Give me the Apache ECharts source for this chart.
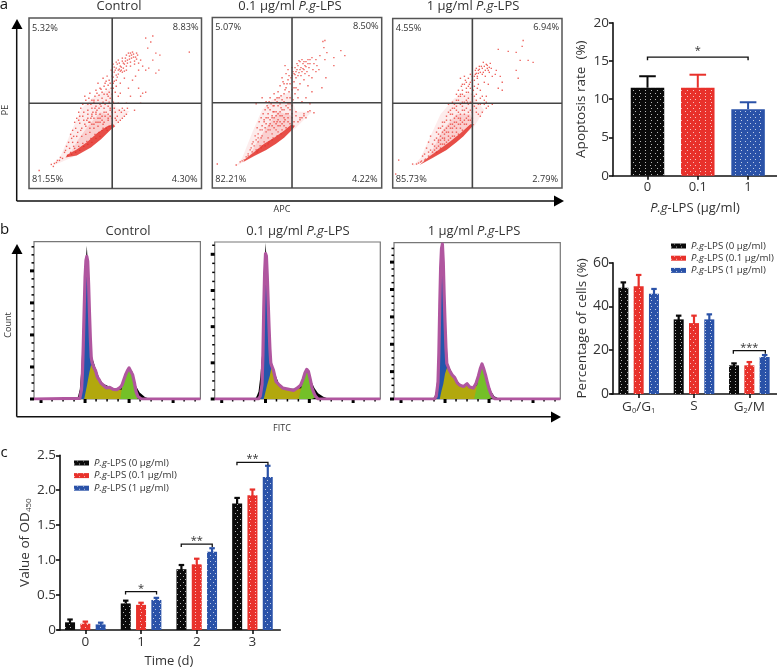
<!DOCTYPE html>
<html><head><meta charset="utf-8">
<script src="https://cdn.jsdelivr.net/npm/echarts@6/dist/echarts.min.js"></script>
<style>html,body{margin:0;padding:0;background:#fff}#c{width:777px;height:669px}</style></head>
<body><div id="c"></div>
<script>
const FONT='"Open Sans","Noto Sans",sans-serif', INK='#333', RED='#e8312b', BLUE='#2a52a8', BLK='#0a0a0a';
const groupNames=['P.g-LPS (0 µg/ml)','P.g-LPS (0.1 µg/ml)','P.g-LPS (1 µg/ml)'];

/* panel a: quadrant percentages [UL,UR,LL,LR] */
const pctA1=['5.32%','8.83%','81.55%','4.30%'];
const pctA2=['5.07%','8.50%','82.21%','4.22%'];
const pctA3=['4.55%','6.94%','85.73%','2.79%'];
const titles=['Control','0.1 µg/ml ','1 µg/ml '];
const gateA1=[82,85], gateA2=[80,85], gateA3=[80,85];

/* panel a: dense zones and sparse events, APC / PE channels */
const bandA1=[[36,31],[47,33],[61,41],[71,49],[81,59],[85,62],[83,64],[77,62],[67,55],[57,46],[47,39],[38,34]];
const coreA1=[[40,34],[61,41],[81,59],[83,72],[70,76],[58,62],[48,48]];
const cloudA1=[[24,23],[47,33],[71,49],[81,59],[99,77],[86,80],[80,100],[62,90],[52,80],[41,55],[30,30]];
const ptsA1=[[84,116],[86,120],[88,118],[90,122],[86,113],[89,125],[92,127],[94,124],[91,118],[95,130],[97,128],[99,132],[101,130],[103,134],[105,131],[100,126],[96,122],[93,120],[107,133],[110,128],[104,127],[108,125],[98,135],[102,136],[112,122],[88,128],[84,121],[82,112],[81,118],[79,108],[77,112],[75,105],[73,110],[70,100],[68,105],[72,96],[76,99],[79,96],[65,92],[62,88],[58,84],[55,92],[60,95],[66,98],[80,90],[83,100],[86,108],[90,105],[94,110],[98,100],[102,108],[105,112],[108,118],[115,118],[118,120],[125,115],[128,118],[122,128],[117,140],[120,146],[115,150],[122,152],[125,135],[129,133],[158,136],[110,85],[112,95],[100,92],[96,85],[104,78],[108,100],[90,95],[92,80],[88,85],[110,92],[115,96],[91,76],[94,78],[97,80],[87,72],[89,78],[85,70],[84,80],[82,76],[80,72],[78,68],[75,72],[72,68],[70,74],[68,70],[66,76],[64,70],[62,74],[60,66],[58,70],[56,62],[54,68],[52,60],[50,65],[48,56],[46,60],[44,52],[42,50],[78,82],[74,80],[70,84],[66,82],[62,80],[58,78],[76,88],[72,90],[68,88],[64,86],[80,80],[76,60],[72,58],[68,62],[64,60],[60,56],[56,54],[52,52],[48,46],[44,42],[40,40],[36,38],[33,30],[30,28],[27,26],[24,22],[10,18],[22,24],[70,66],[66,66],[62,64],[74,76],[78,74],[82,70],[79,62],[73,64],[69,56],[65,54],[61,50],[57,47],[53,45],[49,42],[45,40],[41,36],[38,33],[85,96],[82,94],[78,92],[74,94],[88,92],
[85,118],[87,124],[89,119],[91,121],[93,125],[95,127],[97,125],[99,129],[101,133],[103,131],[106,129],[94,117],[90,117],[87,111],[84,107],[83,111],[80,105],[78,103],[76,107],[74,102],[71,99],[69,93],[67,95],[64,88],[61,84],[59,90],[56,88],[53,84],[51,80],[49,76],[47,70],[45,66],[43,58],[41,54],[39,46],[37,42],[35,36],[31,31],[28,28],[25,25],[50,72],[54,76],[58,74],[62,72],[66,74],[70,70],[74,66],[78,70],[82,64],[85,76],[83,86],[79,86],[75,84],[71,82],[67,78],[63,76],[59,66],[55,64],[51,58],[47,52],[43,46],[60,60],[64,64],[68,66],[72,72],[76,76],[80,78],[73,60],[77,58],[70,52],[66,50],[62,46],[58,44],[54,42],[50,38],[46,36],[42,34],[94,72],[96,74],[92,70],[90,68],[88,66],[86,68],[92,116],[88,114],[96,118],[100,122],[104,124],[83,124],[86,126],[92,130],[96,133],[100,135],[106,135],[83,105],[86,102],[81,100],[77,94],[73,86],[69,80],[65,80],[61,70],[57,68],[53,72],[49,68]];
const bandA2=[[31,26],[42,32],[54,38],[64,44],[72,50],[80,58],[83,62],[79,63],[72,57],[62,50],[52,44],[42,36],[33,29]];
const coreA2=[[36,30],[54,38],[72,50],[82,60],[80,72],[66,76],[54,60],[44,44]];
const cloudA2=[[24,22],[54,38],[72,50],[84,60],[100,76],[84,76],[78,96],[60,88],[50,78],[40,55],[30,30]];
const ptsA2=[[83,113],[85,118],[87,115],[89,120],[91,124],[93,122],[86,122],[88,126],[90,128],[92,118],[94,126],[96,124],[98,128],[100,130],[95,116],[97,120],[84,110],[82,106],[80,112],[78,104],[76,108],[74,100],[72,104],[70,110],[68,102],[66,96],[74,114],[76,118],[80,120],[73,122],[72,94],[77,96],[80,98],[84,100],[88,104],[92,108],[96,102],[100,110],[104,116],[107,118],[102,124],[104,128],[108,132],[112,140],[111,146],[113,147],[115,135],[113,128],[122,122],[122,130],[129,137],[133,132],[114,110],[110,100],[100,96],[94,90],[98,84],[90,86],[86,90],[62,94],[58,90],[54,86],[50,90],[56,80],[62,82],[68,84],[72,86],[76,84],[44,84],[5,24],[24,23],[28,26],[32,28],[36,32],[40,36],[44,38],[48,42],[52,46],[56,50],[60,54],[64,58],[68,62],[72,66],[76,70],[80,74],[84,72],[88,70],[92,74],[98,77],[102,75],[94,70],[44,48],[46,54],[48,58],[50,62],[52,66],[54,70],[56,74],[58,64],[60,70],[62,66],[64,72],[66,68],[68,76],[70,72],[72,78],[74,74],[76,80],[78,78],[80,82],[46,46],[50,52],[54,56],[58,58],[62,60],[66,62],[70,64],[74,60],[78,64],[82,66],[40,44],[42,42],[38,38],[36,34],[66,56],[70,58],[60,48],[56,44],[50,42],[46,38],[73,68],[65,66],[57,62],[53,60],[49,50],[61,76],[69,80],[75,90],[81,88],[83,94],[59,84],[65,90],
[84,116],[86,112],[88,118],[90,116],[92,126],[94,121],[96,128],[98,124],[91,119],[87,127],[85,124],[83,120],[81,116],[79,110],[77,112],[75,104],[73,98],[71,106],[69,92],[67,90],[65,86],[63,88],[61,82],[57,86],[55,82],[53,78],[51,74],[49,70],[47,66],[45,60],[43,52],[41,46],[39,40],[34,31],[30,27],[52,68],[56,70],[60,72],[64,76],[68,72],[72,70],[76,74],[80,70],[84,76],[78,84],[74,82],[70,78],[66,74],[62,70],[58,68],[54,64],[50,58],[46,50],[56,58],[60,62],[64,64],[68,66],[72,62],[76,66],[80,62],[69,54],[65,52],[61,50],[57,46],[53,42],[49,40],[45,36],[90,70],[92,72],[96,76],[86,66],[88,68],[89,112],[93,114],[97,112],[101,118],[105,122],[82,114],[86,98],[82,100],[78,90],[70,88],[66,82],[62,76],[58,78]];
const bandA3=[[27,23],[40,30],[54,38],[64,46],[71,52],[80,62],[82,64],[78,64],[68,55],[58,47],[46,38],[36,31]];
const coreA3=[[34,28],[54,38],[71,52],[81,63],[78,74],[64,74],[50,58],[42,42]];
const cloudA3=[[20,22],[54,38],[71,52],[82,62],[92,78],[84,88],[78,96],[62,90],[48,74],[36,48],[28,30]];
const ptsA3=[[82,112],[84,115],[86,118],[88,116],[90,120],[92,122],[94,124],[96,118],[85,110],[83,118],[87,122],[90,114],[93,112],[95,120],[98,125],[91,126],[80,108],[78,114],[76,110],[74,106],[72,112],[70,104],[68,110],[66,98],[70,94],[74,96],[78,100],[82,102],[86,104],[72,86],[66,88],[62,84],[58,78],[64,94],[84,94],[88,98],[92,106],[96,104],[100,112],[104,118],[108,112],[110,106],[106,100],[110,98],[94,92],[96,82],[90,76],[94,80],[88,84],[92,88],[100,84],[106,139],[116,137],[124,136],[131,148],[130,142],[128,128],[126,110],[124,118],[136,128],[141,126],[3,14],[6,28],[20,24],[24,24],[28,26],[32,28],[36,32],[40,36],[44,40],[48,44],[52,48],[56,52],[60,56],[64,60],[68,64],[72,68],[76,72],[80,76],[84,80],[86,74],[88,72],[34,40],[36,46],[38,52],[42,48],[44,56],[46,60],[48,52],[50,66],[52,58],[54,72],[56,62],[58,68],[60,74],[62,66],[64,72],[66,76],[68,70],[70,78],[72,74],[74,80],[76,84],[78,78],[80,86],[82,82],[50,56],[54,60],[58,60],[62,62],[66,64],[70,66],[74,64],[78,68],[46,48],[42,42],[38,38],[32,34],[30,32],[70,58],[66,54],[62,52],[58,50],[54,46],[50,44],[46,42],[42,38],[74,70],[68,68],[60,64],[52,54],[48,48],[64,78],[70,86],[76,90],[82,92],[60,86],[56,84],[68,92],[75,86],
[83,114],[85,112],[87,119],[89,122],[91,116],[93,118],[95,123],[97,121],[86,115],[84,120],[82,108],[80,112],[78,106],[76,102],[74,100],[72,104],[70,98],[68,94],[66,92],[64,88],[62,80],[60,80],[58,74],[56,76],[54,68],[52,66],[50,62],[48,60],[46,54],[44,50],[40,44],[36,36],[33,29],[29,27],[26,25],[52,50],[56,56],[60,60],[64,66],[68,74],[72,78],[76,76],[80,70],[84,76],[78,86],[74,88],[70,82],[66,70],[62,70],[58,64],[54,56],[50,50],[46,46],[72,64],[76,68],[80,66],[68,60],[64,56],[60,52],[56,48],[52,44],[48,40],[44,36],[86,84],[88,90],[90,92],[84,88],[92,84],[94,86],[80,94],[76,96],[72,92],[68,84],[64,82],[97,116],[99,120],[103,114],[85,100],[81,98],[77,104],[73,108],[69,102]];

/* panel b: cell cycle histograms as [channel,count] */
const histMajorX=[0,50,100,150];
const histMinorX=[12.5,25,37.5,62.5,75,87.5,112.5,125,137.5,162.5,175];
const yMajor1=[0,100,200,300,400], yMinor1=[25,50,75,125,150,175,225,250,275,325,350,375,425,450,475];
const yMajor2=[0,100,200,300,400], yMinor2=[25,50,75,125,150,175,225,250,275,325,350,375,425];
const yMajor3=[0,100,200,300,400,500], yMinor3=[25,50,75,125,150,175,225,250,275,325,350,375,425,450,475,525,550];
const totalB1=[[-8,0],[44,2],[46,30],[47,80],[48,170],[49,280],[50,380],[51,432],[52,445],[53,430],[54,360],[55,270],[56,190],[57,130],[58,114],[60,98],[62,88],[64,68],[66,60],[68,50],[70,46],[74,35],[78,36],[82,30],[86,29],[88,31],[90,36],[92,44],[94,60],[96,76],[98,88],[100,97],[102,92],[104,76],[106,52],[108,22],[110,8],[112,2],[114,0],[181,0]];
const blackB1=[[40,0],[42,8],[44,30],[46,100],[48,250],[50,400],[52,478],[54,380],[56,220],[58,130],[62,96],[66,66],[70,48],[78,38],[86,30],[92,48],[96,80],[100,100],[104,84],[108,40],[112,20],[118,6],[124,0]];
const blueB1=[[45,0],[47,70],[48,160],[49,270],[50,370],[51,420],[52,435],[53,420],[54,350],[55,260],[56,180],[57,120],[58,0]];
const yellowB1=[[49,0],[52,40],[55,85],[57,108],[60,92],[62,80],[64,64],[68,48],[74,33],[78,34],[82,28],[86,27],[90,30],[94,28],[98,8],[102,0]];
const greenB1=[[90,0],[92,38],[94,56],[96,72],[98,84],[100,92],[102,88],[104,72],[106,48],[108,18],[110,0]];
const totalB2=[[-8,0],[42,0],[44,8],[46,40],[47,120],[48,250],[49,350],[50,402],[51,395],[52,340],[53,270],[54,200],[55,140],[56,100],[57,92],[59,80],[62,48],[66,38],[70,30],[74,28],[78,26],[82,24],[86,30],[90,38],[93,56],[95,72],[97,82],[99,76],[101,55],[103,32],[105,18],[107,8],[110,0],[181,0]];
const blackB2=[[38,0],[40,8],[42,20],[44,60],[46,120],[48,300],[50,432],[52,360],[54,220],[56,110],[60,75],[66,38],[74,28],[86,28],[92,45],[97,84],[102,50],[106,30],[110,16],[116,6],[123,0]];
const blueB2=[[44,0],[46,30],[47,110],[48,230],[49,330],[50,385],[51,380],[52,325],[53,260],[54,195],[55,135],[56,95],[57,60],[58,0]];
const yellowB2=[[48,0],[52,40],[55,65],[57,90],[59,76],[62,46],[66,36],[70,28],[74,27],[78,25],[82,23],[86,28],[90,30],[94,26],[98,6],[102,0]];
const greenB2=[[88,0],[91,34],[93,50],[95,66],[97,76],[99,70],[101,50],[103,28],[105,14],[107,4],[108,0]];
const totalB3=[[-8,0],[38,0],[40,10],[42,60],[43,170],[44,340],[45,480],[46,550],[47,566],[48,500],[49,380],[50,280],[51,190],[52,130],[53,122],[55,105],[58,88],[61,78],[64,58],[67,50],[71,46],[75,56],[78,44],[82,40],[85,55],[88,85],[90,110],[92,128],[94,110],[96,88],[98,62],[100,38],[102,20],[104,8],[107,0],[181,0]];
const blackB3=[[36,0],[38,8],[40,30],[42,110],[44,380],[47,580],[50,300],[53,130],[60,80],[70,45],[82,40],[92,128],[98,66],[102,30],[106,10],[112,0]];
const blueB3=[[40,0],[41,30],[42,55],[43,160],[44,330],[45,470],[46,540],[47,555],[48,490],[49,370],[50,270],[51,180],[52,120],[53,60],[54,0]];
const yellowB3=[[44,0],[46,30],[48,55],[50,92],[52.7,120],[55,100],[58,84],[61,74],[64,55],[67,47],[71,43],[75,52],[78,42],[82,38],[85,48],[88,50],[92,24],[96,4],[98,0]];
const greenB3=[[83,0],[85,28],[88,78],[90,104],[92,120],[94,104],[96,82],[98,56],[100,32],[102,16],[104,4],[105,0]];

/* bar charts */
const apoCats=['0','0.1','1'];
const apoVals=[11.5,11.5,8.7];
const apoTops=[13,13.2,9.6];
const cycleCats=['G0/G1','S','G2/M'];
const cycle0=[48.6,34.1,13.1], cycle0Top=[51,35.8,14];
const cycle1=[49.2,32.4,13.1], cycle1Top=[54.4,35.8,14.6];
const cycle2=[45.8,34.1,16.9], cycle2Top=[48,36.4,17.8];
const odCats=['0','1','2','3'];
const od0=[0.11,0.38,0.87,1.81], od0Top=[0.15,0.42,0.93,1.89];
const od1=[0.09,0.36,0.94,1.93], od1Top=[0.12,0.39,1.02,2.01];
const od2=[0.08,0.43,1.12,2.19], od2Top=[0.105,0.46,1.17,2.35];

const grids=[],xAxes=[],yAxes=[],series=[],gfx=[];
const txt=(s,x,y,o={})=>gfx.push({type:'text',z:100,x,y,rotation:o.rot||0,silent:true,style:{text:s,fill:o.fill||INK,fontFamily:FONT,fontSize:o.size||10,align:o.align||'center',verticalAlign:'middle',rich:o.rich}});
const seg=(x1,y1,x2,y2,w=1.5,c='#111')=>gfx.push({type:'line',z:100,silent:true,shape:{x1,y1,x2,y2},style:{stroke:c,lineWidth:w}});
const arrow=(pts)=>gfx.push({type:'polygon',z:100,silent:true,shape:{points:pts},style:{fill:'#000'}});

function scatterPanel(l,t,w,h,gate,band,core,cloud,pts,pct){
  const g=grids.length;
  grids.push({left:l,top:t,width:w,height:h,show:true,borderColor:'#555',borderWidth:1.5,backgroundColor:'transparent'});
  xAxes.push({gridIndex:g,type:'value',min:0,max:170,show:false});
  yAxes.push({gridIndex:g,type:'value',min:0,max:170,show:false});
  const idx={xAxisIndex:xAxes.length-1,yAxisIndex:yAxes.length-1};
  const poly=(arr,fill,z)=>series.push({type:'custom',...idx,z,silent:true,coordinateSystem:'cartesian2d',data:[arr[0]],
    renderItem:(p,api)=>({type:'polygon',shape:{points:arr.map(a=>api.coord(a))},style:{fill}})});
  poly(cloud,'rgba(236,70,70,0.10)',2);
  poly(core,'rgba(236,60,60,0.16)',2);
  series.push({type:'scatter',...idx,z:3,silent:true,symbol:'rect',symbolSize:1.4,itemStyle:{color:'#e8302a',opacity:.75},data:pts});
  poly(band,'rgba(226,44,36,0.8)',4);
  series.push({type:'line',...idx,z:5,silent:true,showSymbol:false,lineStyle:{color:'#444',width:1.6},data:[[gate[0],0],[gate[0],170]]});
  series.push({type:'line',...idx,z:5,silent:true,showSymbol:false,lineStyle:{color:'#444',width:1.6},data:[[0,gate[1]],[170,gate[1]]]});
  txt(pct[0],l+3,t+10,{align:'left',size:9.2});
  txt(pct[1],l+w-3,t+9,{align:'right',size:9.2});
  txt(pct[2],l+3,t+h-9,{align:'left',size:9.2});
  txt(pct[3],l+w-4,t+h-9,{align:'right',size:9.2});
}
function histPanel(l,t,w,h,ymax,yMajor,yMinor,black,blue,yellow,green,total){
  const g=grids.length;
  grids.push({left:l,top:t,width:w,height:h,show:true,borderColor:'#777',borderWidth:1.2,backgroundColor:'transparent'});
  xAxes.push({gridIndex:g,type:'value',min:-8,max:181,show:false});
  yAxes.push({gridIndex:g,type:'value',min:0,max:ymax,show:false});
  const idx={xAxisIndex:xAxes.length-1,yAxisIndex:yAxes.length-1};
  const area=(d,c)=>series.push({type:'line',...idx,z:2,silent:true,showSymbol:false,data:d,lineStyle:{width:0},areaStyle:{color:c,opacity:1}});
  area(black,'#000'); area(blue,'#2456ab'); area(yellow,'#b2a80e'); area(green,'#74c028');
  series.push({type:'line',...idx,z:3,silent:true,showSymbol:false,data:total,lineStyle:{color:'#b0569f',width:3.2,join:'round'}});
  const ticks=(vals,isX,len,wd)=>series.push({type:'custom',...idx,z:1,silent:true,clip:false,data:vals.map(v=>isX?[v,0]:[-8,v]),
    renderItem:(p,api)=>{
      const a=api.coord([api.value(0),api.value(1)]);
      const sh=isX?{x1:a[0],y1:a[1],x2:a[0],y2:a[1]+len}:{x1:a[0],y1:a[1],x2:a[0]-len,y2:a[1]};
      return {type:'line',shape:sh,style:{stroke:'#000',lineWidth:wd}};
    }});
  ticks(histMinorX,true,2.5,1.5); ticks(yMinor,false,2.5,1.5);
  ticks(histMajorX,true,4,3); ticks(yMajor,false,4,3);
}

scatterPanel(29,18,172.5,170.5,gateA1,bandA1,coreA1,cloudA1,ptsA1,pctA1);
scatterPanel(212.3,17.5,169.4,170.5,gateA2,bandA2,coreA2,cloudA2,ptsA2,pctA2);
scatterPanel(392.7,18.5,169.3,169.5,gateA3,bandA3,coreA3,cloudA3,ptsA3,pctA3);
histPanel(34,241.7,166.4,157.3,491,yMajor1,yMinor1,blackB1,blueB1,yellowB1,greenB1,totalB1);
histPanel(214.7,242,165.6,157,434,yMajor2,yMinor2,blackB2,blueB2,yellowB2,greenB2,totalB2);
histPanel(394,242.7,166.3,156.3,571,yMajor3,yMinor3,blackB3,blueB3,yellowB3,greenB3,totalB3);

const dots=c=>({color:c,symbol:'rect',symbolSize:1,dashArrayX:[[1,3.6],[0,2.3,1,1.3]],dashArrayY:[1,1.3],rotation:0,maxTileWidth:256,maxTileHeight:256});
const axLine={show:true,onZero:false,lineStyle:{color:'#111',width:1.6}};
const tick={show:true,length:4,lineStyle:{color:'#111',width:1.6}};
const sub={m:{fontSize:13.5,color:INK,fontFamily:FONT},s:{fontSize:7.5,color:INK,fontFamily:FONT,verticalAlign:'bottom',padding:[8,0,0,0]}};
const ital={i:{fontStyle:'italic',fontFamily:FONT,fontSize:13,color:INK},n:{fontFamily:FONT,fontSize:13,color:INK}};

const errStyle=(c,wd)=>({stroke:c,lineWidth:wd,fill:'none'});
function errSeries(xi,yi,cats,tops,off,cap,c,wd){
  series.push({type:'custom',xAxisIndex:xi,yAxisIndex:yi,silent:true,z:1,data:tops.map((v,i)=>[cats[i],v,i]),
    renderItem:(p,api)=>{
      const a=api.coord([api.value(0),api.value(1)]), b=api.coord([api.value(0),0]);
      const x=a[0]+off, top=a[1];
      return {type:'group',children:[
        {type:'line',shape:{x1:x,y1:top,x2:x,y2:b[1]-1},style:errStyle(c,wd)},
        {type:'line',shape:{x1:x-cap/2,y1:top,x2:x+cap/2,y2:top},style:errStyle(c,wd)}]};
    }});
}
function bracket(xi,yi,cat,y,half,off,label){
  series.push({type:'custom',xAxisIndex:xi,yAxisIndex:yi,silent:true,z:4,data:[[cat,y]],
    renderItem:(p,api)=>{
      const a=api.coord([api.value(0),api.value(1)]), x=a[0]+off, t=a[1];
      return {type:'group',children:[
        {type:'polyline',shape:{points:[[x-half,t+3],[x-half,t],[x+half,t],[x+half,t+3]]},style:{stroke:'#111',lineWidth:1.3,fill:'none'}},
        {type:'text',style:{x:x,y:t-3,text:label,fill:INK,fontSize:11,fontFamily:FONT,align:'center',verticalAlign:'middle'}}]};
    }});
}
function barChart(l,t,w,h,cats,ymax,yint,ylabels,yName,yNameGap,xName,xNameGap,labelFmt,rows,axisOffset,fs){
  const g=grids.length;
  grids.push({left:l,top:t,width:w,height:h});
  xAxes.push({gridIndex:g,type:'category',data:cats,boundaryGap:true,axisLine:axLine,axisTick:{...tick,alignWithLabel:true},
    axisLabel:{color:INK,fontFamily:FONT,fontSize:fs,margin:5,interval:0,formatter:labelFmt,rich:sub},
    name:xName,nameLocation:'middle',nameGap:xNameGap,nameTextStyle:{color:INK,fontFamily:FONT,fontSize:13}});
  yAxes.push({gridIndex:g,type:'value',min:0,max:ymax,interval:yint,offset:axisOffset,axisLine:{...axLine},axisTick:tick,splitLine:{show:false},
    axisLabel:{color:INK,fontFamily:FONT,fontSize:fs,margin:4,formatter:ylabels},
    name:yName,nameLocation:'middle',nameGap:yNameGap,nameTextStyle:{color:INK,fontFamily:FONT,fontSize:13.5,
      rich:{m:{fontFamily:FONT,fontSize:13.5,color:INK},s:{fontFamily:FONT,fontSize:8,color:INK,verticalAlign:'bottom',padding:[7,0,0,0]}}}});
  const xi=xAxes.length-1, yi=yAxes.length-1;
  rows.forEach((r,i)=>errSeries(xi,yi,cats,r.tops,(i-1)*15.33,5.5,r.color,2.2));
  rows.forEach(r=>{
    series.push({type:'bar',name:r.name,xAxisIndex:xi,yAxisIndex:yi,silent:true,barWidth:10,barGap:'53%',
      data:r.vals,itemStyle:{color:r.color,decal:dots('rgba(255,255,255,0.7)')},z:2});
  });
  return [xi,yi];
}

/* apoptosis panel: value x axis so the axis line can run past the outer bars */
(function(){
  const g=grids.length;
  grids.push({left:613,top:22.7,width:164,height:153});
  const pos=[0,1,2];
  xAxes.push({gridIndex:g,type:'value',min:-0.686,max:2.575,axisLine:axLine,splitLine:{show:false},
    axisTick:{...tick,customValues:pos},
    axisLabel:{customValues:pos,color:INK,fontFamily:FONT,fontSize:13,margin:5,formatter:v=>apoCats[Math.round(v)]},
    name:'{i|P.g}{n|-LPS (µg/ml)}',nameLocation:'middle',nameGap:26,nameTextStyle:{rich:ital,fontSize:13}});
  yAxes.push({gridIndex:g,type:'value',min:0,max:20,interval:5,axisLine:axLine,axisTick:tick,splitLine:{show:false},
    axisLabel:{color:INK,fontFamily:FONT,fontSize:13.5,margin:4},
    name:'Apoptosis rate  (%)',nameLocation:'middle',nameGap:25,nameTextStyle:{color:INK,fontFamily:FONT,fontSize:13.5}});
  const xi=xAxes.length-1, yi=yAxes.length-1, cols=[BLK,RED,BLUE];
  series.push({type:'custom',xAxisIndex:xi,yAxisIndex:yi,silent:true,z:1,data:apoTops.map((v,i)=>[i,v]),
    renderItem:(p,api)=>{
      const a=api.coord([api.value(0),api.value(1)]),b=api.coord([api.value(0),apoVals[p.dataIndex]]);
      const c=cols[p.dataIndex];
      return {type:'group',children:[
        {type:'line',shape:{x1:a[0],y1:a[1],x2:a[0],y2:b[1]},style:{stroke:c,lineWidth:2}},
        {type:'line',shape:{x1:a[0]-8.3,y1:a[1],x2:a[0]+8.3,y2:a[1]},style:{stroke:c,lineWidth:2}}]};
    }});
  series.push({type:'bar',xAxisIndex:xi,yAxisIndex:yi,silent:true,barWidth:33.5,z:2,
    data:apoVals.map((v,i)=>({value:[i,v],itemStyle:{color:cols[i],decal:dots('rgba(255,255,255,0.7)')}}))});
  series.push({type:'custom',xAxisIndex:xi,yAxisIndex:yi,silent:true,z:4,data:[[1,15.5]],
    renderItem:(p,api)=>{
      const a=api.coord([0,api.value(1)]),b=api.coord([2,api.value(1)]);
      return {type:'group',children:[
        {type:'polyline',shape:{points:[[a[0],a[1]+3],[a[0],a[1]],[b[0],b[1]],[b[0],b[1]+3]]},style:{stroke:'#111',lineWidth:1.4,fill:'none'}},
        {type:'text',style:{x:(a[0]+b[0])/2,y:a[1]-6,text:'*',fill:INK,fontSize:11,fontFamily:FONT,align:'center',verticalAlign:'middle'}}]};
    }});
})();

const subCat=v=>({'G0/G1':'{m|G}{s|0}{m|/G}{s|1}','S':'{m|S}','G2/M':'{m|G}{s|2}{m|/M}'})[v];
const cyc=barChart(611,262.7,166.5,131.3,cycleCats,60,20,undefined,'Percentage of cells (%)',24,'',0,subCat,[
  {name:groupNames[0],vals:cycle0,tops:cycle0Top,color:BLK},
  {name:groupNames[1],vals:cycle1,tops:cycle1Top,color:RED},
  {name:groupNames[2],vals:cycle2,tops:cycle2Top,color:BLUE}],-2,14);
bracket(cyc[0],cyc[1],'G2/M',19.8,16,0,'***');
const odg=barChart(57.5,455.3,222.8,180,odCats,2.5,0.5,v=>v===0?'0':v.toFixed(1),'{m|Value of OD}{s|450}',27,'Time (d)',25,undefined,[
  {name:groupNames[0],vals:od0,tops:od0Top,color:BLK},
  {name:groupNames[1],vals:od1,tops:od1Top,color:RED},
  {name:groupNames[2],vals:od2,tops:od2Top,color:BLUE}],-2.5,13.5);
bracket(odg[0],odg[1],'1',0.55,15.5,0,'*');
bracket(odg[0],odg[1],'2',1.23,15.5,0,'**');
bracket(odg[0],odg[1],'3',2.40,15.5,0,'**');

/* frame: titles, panel letters, arrows */
const pgRich={i:{fontStyle:'italic',fontFamily:FONT,fontSize:13,color:INK},n:{fontFamily:FONT,fontSize:13,color:INK}};
[[119,6],[290,6],[473,6]].forEach(([x,y],i)=>{
  txt(i?'{n|'+titles[i]+'}{i|P.g}{n|-LPS}':'{n|'+titles[i]+'}',x,y,{rich:pgRich,size:13});
});
[[128,231],[298,231],[474,231]].forEach(([x,y],i)=>{
  txt(i?'{n|'+titles[i]+'}{i|P.g}{n|-LPS}':'{n|'+titles[i]+'}',x,y,{rich:pgRich,size:13});
});
txt('a',4,5,{size:15,fill:'#111'}); txt('b',4.5,230,{size:15,fill:'#111'}); txt('c',4,453,{size:15,fill:'#111'});
txt('APC',282,209,{size:9}); txt('FITC',282,428,{size:9});
txt('PE',5,110,{size:9,rot:Math.PI/2}); txt('Count',8,325,{size:9,rot:Math.PI/2});
seg(16.7,26,16.7,201); seg(16.7,201,556,201);
arrow([[17,19],[11.5,29],[22.5,29]]); arrow([[564,201],[554,195.5],[554,206.5]]);
seg(16.7,251,16.7,416.7); seg(16.7,416.7,552,416.7);
arrow([[17,244],[11.5,254],[22.5,254]]); arrow([[561,417],[551,411.5],[551,422.5]]);

const legendRich={i:{fontStyle:'italic',fontFamily:FONT,fontSize:9.7,color:INK},n:{fontFamily:FONT,fontSize:9.7,color:INK}};
const lfmt=n=>'{i|P.g}{n|'+n.slice(3)+'}';
const legend=[{left:671,top:240,orient:'vertical',itemWidth:15,itemHeight:5,itemGap:0.2},{left:74,top:457,orient:'vertical',itemWidth:15,itemHeight:5,itemGap:0.6}]
 .map(o=>({...o,icon:'rect',padding:0,selectedMode:false,data:groupNames,formatter:lfmt,textStyle:{rich:legendRich,fontSize:9.7,lineHeight:12}}));

const chart=echarts.init(document.getElementById('c'),null,{renderer:'canvas'});
chart.setOption({animation:false,backgroundColor:'#fff',textStyle:{fontFamily:FONT},grid:grids,xAxis:xAxes,yAxis:yAxes,series,legend,graphic:{elements:gfx},tooltip:{show:false}});
</script></body></html>
